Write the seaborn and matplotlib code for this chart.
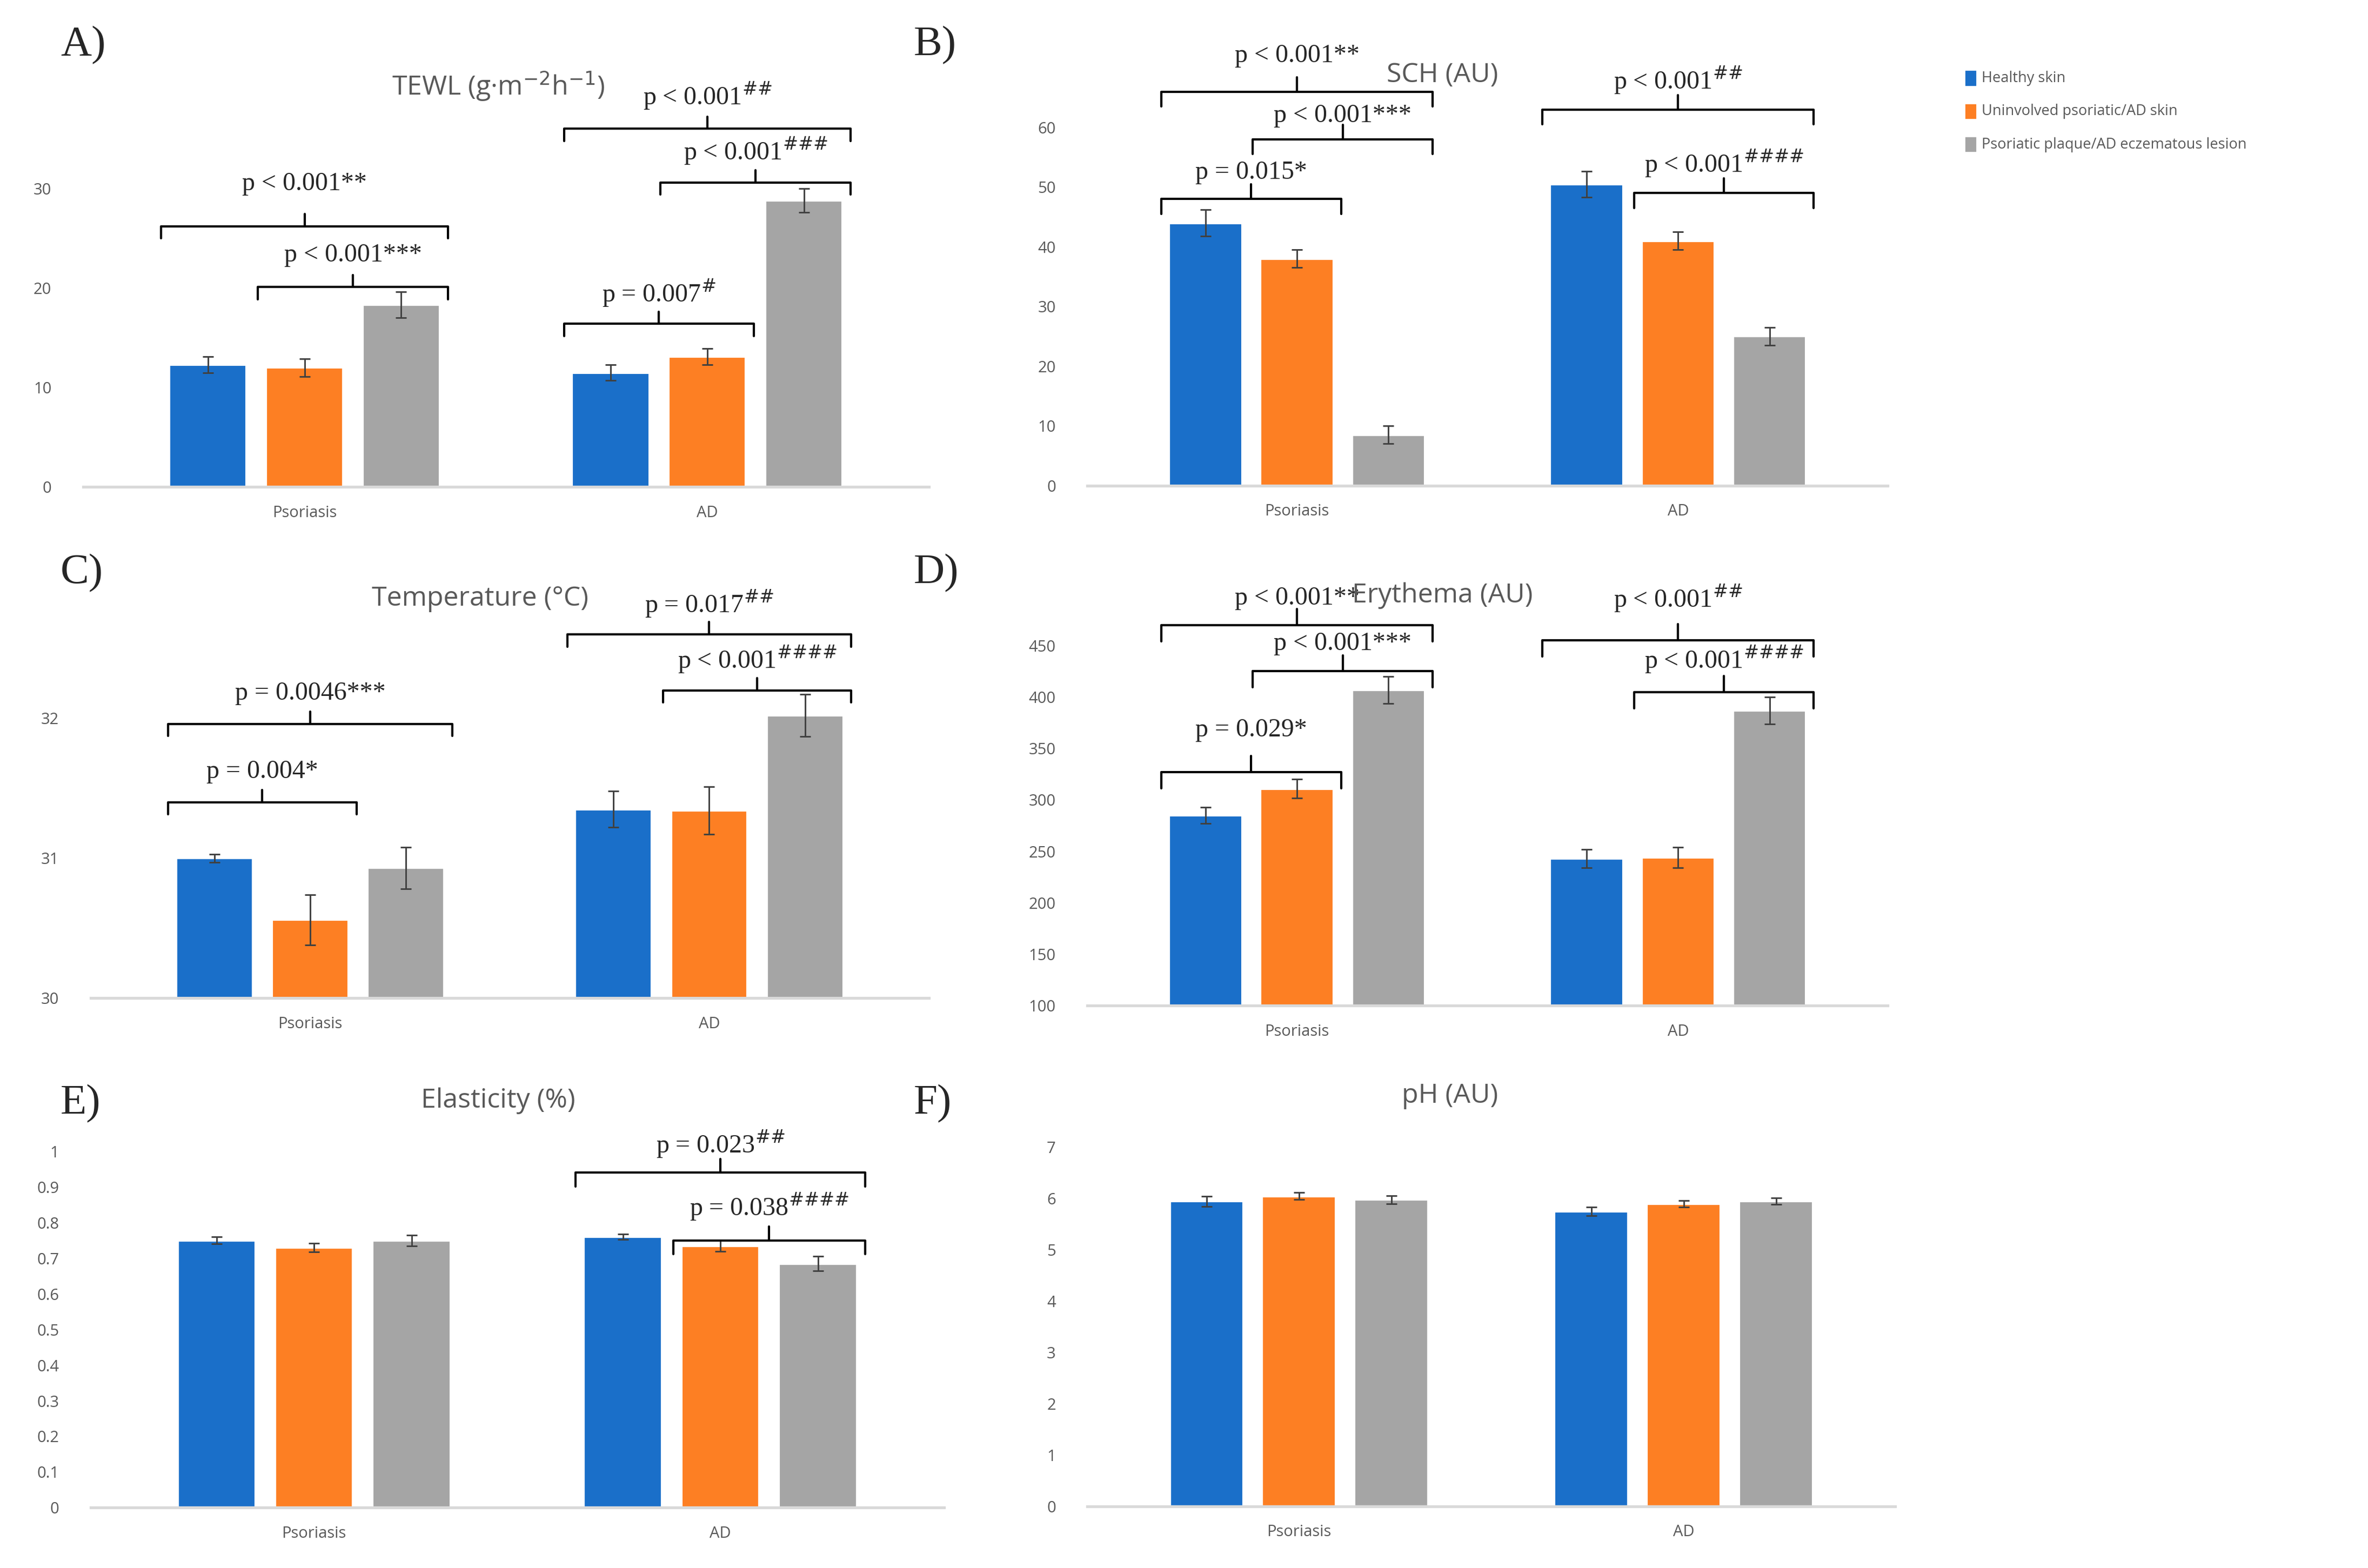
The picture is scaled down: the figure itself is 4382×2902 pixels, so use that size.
import matplotlib
matplotlib.use("Agg")
import matplotlib.pyplot as plt
import seaborn as sns
import pandas as pd

sns.set_theme(style="white")
plt.rcParams['font.family'] = ['Open Sans', 'DejaVu Sans']

groups = ["Psoriasis", "AD"]
conditions = ["Healthy skin", "Uninvolved psoriatic/AD skin", "Psoriatic plaque/AD eczematous lesion"]
colors = ["#1a6fc9", "#fd7f23", "#a5a5a5"]

tewl = [[12.3, 12.0, 18.3], [11.5, 13.1, 28.8]]
tewl_err = [[0.8, 0.9, 1.3], [0.8, 0.8, 1.2]]
sch = [[44.0, 38.0, 8.5], [50.5, 41.0, 25.0]]
sch_err = [[2.2, 1.5, 1.5], [2.2, 1.5, 1.5]]
temp = [[31.0, 30.56, 30.93], [31.35, 31.34, 32.02]]
temp_err = [[0.03, 0.18, 0.15], [0.13, 0.17, 0.15]]
ery = [[285, 311, 407], [243, 244, 387]]
ery_err = [[8, 9, 13], [9, 10, 13]]
elast = [[0.75, 0.73, 0.75], [0.76, 0.735, 0.685]]
elast_err = [[0.01, 0.012, 0.015], [0.008, 0.015, 0.02]]
ph = [[5.95, 6.05, 5.98], [5.75, 5.90, 5.95]]
ph_err = [[0.10, 0.07, 0.08], [0.08, 0.06, 0.06]]

# brackets: (group, bar_i, bar_j, bracket_y, text_y, label)
br_A = [(0, 0, 2, 26.2, 30.5, "p < 0.001**"), (0, 1, 2, 20.1, 23.3, "p < 0.001***"),
        (1, 0, 1, 16.4, 19.5, "p = 0.007$^{\\#}$"), (1, 1, 2, 30.6, 33.8, "p < 0.001$^{\\#\\#\\#}$"),
        (1, 0, 2, 36.0, 39.3, "p < 0.001$^{\\#\\#}$")]
br_B = [(0, 0, 1, 48, 52.5, "p = 0.015*"), (0, 1, 2, 58, 62.0, "p < 0.001***"),
        (0, 0, 2, 66, 72.0, "p < 0.001**"), (1, 0, 2, 63, 68.0, "p < 0.001$^{\\#\\#}$"),
        (1, 1, 2, 49, 54.0, "p < 0.001$^{\\#\\#\\#\\#}$")]
br_C = [(0, 0, 1, 31.40, 31.62, "p = 0.004*"), (0, 0, 2, 31.96, 32.18, "p = 0.0046***"),
        (1, 1, 2, 32.20, 32.42, "p < 0.001$^{\\#\\#\\#\\#}$"), (1, 0, 2, 32.60, 32.82, "p = 0.017$^{\\#\\#}$")]
br_D = [(0, 0, 1, 327, 368, "p = 0.029*"), (0, 1, 2, 425, 452, "p < 0.001***"),
        (0, 0, 2, 470, 496, "p < 0.001**"), (1, 0, 2, 455, 496, "p < 0.001$^{\\#\\#}$"),
        (1, 1, 2, 405, 437, "p < 0.001$^{\\#\\#\\#\\#}$")]
br_E = [(1, 0, 2, 0.94, 1.02, "p = 0.023$^{\\#\\#}$"), (1, 1, 2, 0.75, 0.845, "p = 0.038$^{\\#\\#\\#\\#}$")]
br_F = []

W, H = 1568.0, 1040.0
fig = plt.figure(figsize=(4382 / 300, 2902 / 300), dpi=300)

panels = [
    ("A)", (40, 30), "TEWL (g·m$^{-2}$h$^{-1}$)", (330, 57), 55, 615, 323, 92, (0, 35), [0, 10, 20, 30], tewl, tewl_err, br_A),
    ("B)", (605, 30), "SCH (AU)", (955, 50), 720, 1250, 322, 45, (0, 70), [0, 10, 20, 30, 40, 50, 60], sch, sch_err, br_B),
    ("C)", (40, 380), "Temperature (°C)", (318, 397), 60, 615, 662, 430, (30, 32.5), [30, 31, 32], temp, temp_err, br_C),
    ("D)", (605, 380), "Erythema (AU)", (955, 395), 720, 1250, 667, 360, (100, 550), list(range(100, 451, 50)), ery, ery_err, br_D),
    ("E)", (40, 732), "Elasticity (%)", (330, 730), 60, 625, 1000, 740, (0, 1.1), [0, .1, .2, .3, .4, .5, .6, .7, .8, .9, 1], elast, elast_err, br_E),
    ("F)", (605, 732), "pH (AU)", (960, 727), 720, 1255, 999, 744, (0, 7.5), list(range(0, 8)), ph, ph_err, br_F),
]

for (letter, lp, title, tp, x0, x1, base, top, ylim, ticks, vals, errs, brs) in panels:
    ax = fig.add_axes([x0 / W, 1 - base / H, (x1 - x0) / W, (base - top) / H])
    df = pd.DataFrame([(g, c, vals[gi][ci]) for gi, g in enumerate(groups) for ci, c in enumerate(conditions)],
                      columns=["group", "cond", "val"])
    sns.barplot(data=df, x="group", y="val", hue="cond", palette=colors, gap=0.2, width=0.72,
                ax=ax, legend=False, errorbar=None, saturation=1)
    ax.set_ylim(*ylim)
    ax.set_xlim(-0.55, 1.55)
    ax.set_yticks(ticks)
    ax.set_yticklabels([f"{t:g}" for t in ticks], fontsize=7, color="#595959")
    ax.tick_params(axis="x", labelsize=7, colors="#595959", length=0, pad=8)
    ax.tick_params(axis="y", length=0, pad=14)
    ax.set_xlabel(""); ax.set_ylabel("")
    for s in ["top", "right", "left"]:
        ax.spines[s].set_visible(False)
    ax.spines["bottom"].set_color("#d9d9d9")
    bar = {}
    for ci in range(3):
        for gi in range(2):
            p = ax.patches[ci * 2 + gi]
            bar[(gi, ci)] = (p.get_x(), p.get_x() + p.get_width())
    for gi in range(2):
        for ci in range(3):
            l, r = bar[(gi, ci)]
            ax.errorbar((l + r) / 2, vals[gi][ci], yerr=errs[gi][ci], color="#404040",
                        lw=0.7, capsize=2.5, capthick=0.7)
    tick = (ylim[1] - ylim[0]) * 0.035
    for (gi, i, j, yb, yt, lab) in brs:
        l = bar[(gi, i)][0] - 0.02
        r = bar[(gi, j)][1] + 0.02
        m = (l + r) / 2
        ax.plot([l, l, r, r], [yb - tick, yb, yb, yb - tick], color="black", lw=1.0, clip_on=False)
        ax.plot([m, m], [yb, yb + tick], color="black", lw=1.0, clip_on=False)
        ax.text(m, yt, lab, ha="center", va="center", fontsize=11.5, family="Liberation Serif",
                clip_on=False)
    fig.text(lp[0] / W, 1 - lp[1] / H, letter, fontsize=19, family="Liberation Serif", va="center", ha="left")
    fig.text(tp[0] / W, 1 - tp[1] / H, title, fontsize=12, color="#595959", va="center", ha="center")

for k, (c, lab) in enumerate(zip(colors, conditions)):
    y = 1 - (52 + k * 22) / H
    fig.patches.append(plt.Rectangle((1302 / W, y - 0.004), 6 / W, 0.008, color=c, transform=fig.transFigure))
    fig.text(1312 / W, y, lab, fontsize=6.5, color="#595959", va="center", ha="left")

fig.savefig("out.png", dpi=300, facecolor="white")
